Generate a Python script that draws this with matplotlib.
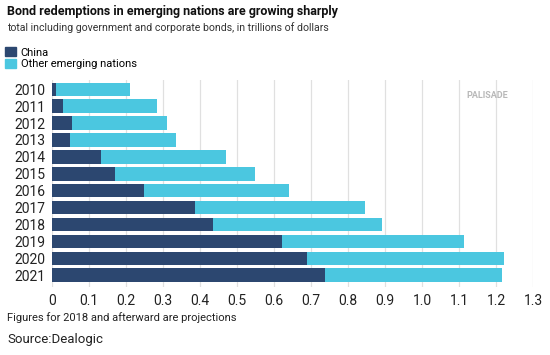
import matplotlib
matplotlib.use("Agg")
import matplotlib.pyplot as plt
from matplotlib.patches import Patch

plt.rcParams['font.family'] = ['Roboto', 'DejaVu Sans']

# data (trillions of dollars)
years = ['2010', '2011', '2012', '2013', '2014', '2015',
         '2016', '2017', '2018', '2019', '2020', '2021']
china = [0.01, 0.03, 0.055, 0.048, 0.132, 0.169,
         0.248, 0.386, 0.435, 0.622, 0.688, 0.737]
total = [0.21, 0.284, 0.311, 0.334, 0.471, 0.548,
         0.641, 0.845, 0.89, 1.113, 1.222, 1.215]
other = [t - c for t, c in zip(total, china)]
xticks = [0, 0.1, 0.2, 0.3, 0.4, 0.5, 0.6, 0.7, 0.8, 0.9, 1.0, 1.1, 1.2, 1.3]
xtick_labels = ['0', '0.1', '0.2', '0.3', '0.4', '0.5', '0.6', '0.7',
                '0.8', '0.9', '1.0', '1.1', '1.2', '1.3']

c_china = '#2c4770'
c_other = '#4bc7e0'

fig = plt.figure(figsize=(5.5, 3.55), dpi=100)
ax = fig.add_axes([52 / 550, 1 - 287 / 355, (533.3 - 52) / 550, (287 - 80) / 355])

pos = list(range(len(years)))
ax.barh(pos, china, height=0.8, color=c_china, zorder=3)
ax.barh(pos, other, left=china, height=0.8, color=c_other, zorder=3)

ax.set_ylim(11.7, -0.55)
ax.set_xlim(0, 1.3)
ax.set_yticks(pos)
ax.set_yticklabels(years, fontsize=10, color='#222222')
ax.set_xticks(xticks)
ax.set_xticklabels(xtick_labels, fontsize=10, color='#222222')
ax.tick_params(length=0, pad=5)
ax.tick_params(axis='x', pad=5)
ax.grid(axis='x', color='#e0e0e0', linewidth=0.9, zorder=0)
ax.set_axisbelow(True)
for s in ax.spines.values():
    s.set_visible(False)

# watermark
fig.text(466 / 550, 1 - 96 / 355, 'PALISADE', fontsize=6.5, color='#b8b8b8',
         ha='left', va='center', fontweight='bold')

fig.text(7 / 550, 1 - 12 / 355, 'Bond redemptions in emerging nations are growing sharply',
         fontsize=9, fontweight='bold', color='#111111', va='center')
fig.text(7 / 550, 1 - 28 / 355, 'total including government and corporate bonds, in trillions of dollars',
         fontsize=7.6, color='#333333', va='center')

handles = [Patch(color=c_china, label='China'),
           Patch(color=c_other, label='Other emerging nations')]
fig.legend(handles=handles, loc='upper left', bbox_to_anchor=(3 / 550, 1 - 45 / 355),
           frameon=False, fontsize=8, handlelength=1.0, handleheight=0.9,
           handletextpad=0.4, labelspacing=0.1, borderaxespad=0, borderpad=0.2)

fig.text(7 / 550, 1 - 318 / 355, 'Figures for 2018 and afterward are projections',
         fontsize=8, color='#222222', va='center')
fig.text(7 / 550, 1 - 340 / 355, 'Source:Dealogic',
         fontsize=9.5, color='#222222', va='center')

fig.savefig('out.png', dpi=100)
